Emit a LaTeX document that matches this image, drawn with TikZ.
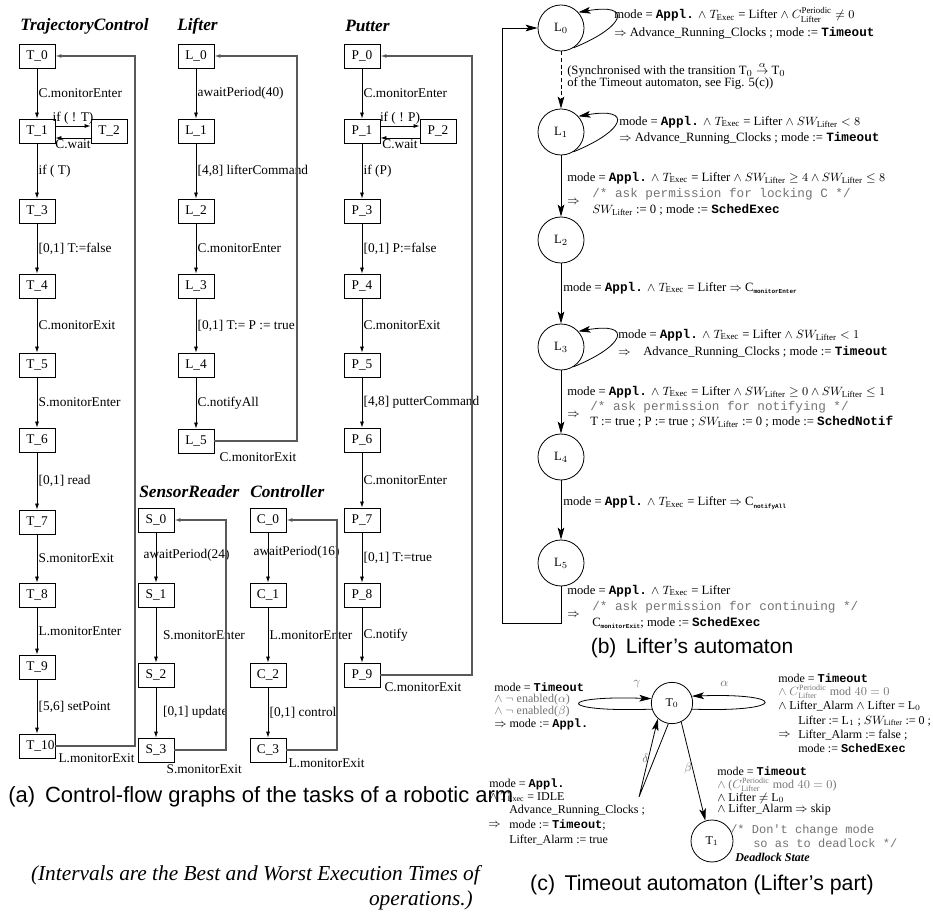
\documentclass[tikz,border=0pt]{standalone}
\usepackage{fontspec}
\setmainfont{Liberation Serif}
\setsansfont{Liberation Sans}
\setmonofont{Liberation Mono}
\usetikzlibrary{arrows.meta,calc}
\definecolor{cmtgray}{gray}{0.45}
\definecolor{backgray}{gray}{0.35}
\newcommand{\mykw}[1]{\texttt{\textbf{#1}}}
\newcommand{\mysb}[1]{\raisebox{-0.4ex}{\fontsize{4.5}{5}\selectfont\ttfamily\bfseries #1}}
\newcommand{\mycm}[1]{\textcolor{cmtgray}{\ttfamily #1}}
\newcommand{\lft}{\mathrm{Lifter}}
\begin{document}
\begin{tikzpicture}[x=0.75pt,y=-0.75pt,
  st/.style={draw,line width=0.6pt,minimum width=27pt,minimum height=18pt,inner sep=0pt,font=\fontsize{10}{12}\selectfont},
  lb/.style={anchor=west,inner sep=1pt,font=\fontsize{10}{12}\selectfont},
  lbc/.style={inner sep=1pt,font=\fontsize{10}{12}\selectfont},
  ttl/.style={anchor=west,inner sep=0pt,font=\fontsize{13}{15}\selectfont\bfseries\itshape},
  ed/.style={draw,line width=0.6pt,-{Latex[length=4.5pt,width=3pt]}},
  bk/.style={draw,backgray,line width=0.9pt,-{Latex[length=4.5pt,width=3pt]}},
  lc/.style={draw,circle,line width=0.6pt,minimum size=34.5pt,inner sep=0pt,font=\fontsize{9.5}{11}\selectfont},
  atx/.style={anchor=west,inner sep=0pt,font=\fontsize{9.5}{11}\selectfont},
  ae/.style={draw,line width=0.6pt,-{Stealth[length=9pt,width=5pt,inset=2pt]}},
  tc/.style={draw,circle,line width=0.6pt,minimum size=31pt,inner sep=0pt,font=\fontsize{9}{11}\selectfont},
  tat/.style={anchor=west,inner sep=0pt,font=\fontsize{9}{11}\selectfont},
  gl/.style={text=cmtgray},
  capt/.style={inner sep=0pt,font=\fontsize{16}{19}\selectfont\sffamily},
]
\useasboundingbox (0,0) rectangle (933,916);

% ---------------- TrajectoryControl
\node[ttl] (ttT) at (20,26) {TrajectoryControl};
\node[st] (T0) at (37,56) {T\_0};
\node[st] (T1) at (37,131) {T\_1};
\node[st] (T2) at (109,131) {T\_2};
\node[st] (T3) at (37,211) {T\_3};
\node[st] (T4) at (37,286) {T\_4};
\node[st] (T5) at (37,365) {T\_5};
\node[st] (T6) at (37,440) {T\_6};
\node[st] (T7) at (37,522) {T\_7};
\node[st] (T8) at (37,595) {T\_8};
\node[st] (T9) at (37,667) {T\_9};
\node[st] (T10) at (37,746) {\makebox[16pt][l]{T\_10}};
\draw[ed] (T0) -- node[lb]{C.monitorEnter} (T1);
\draw[ed] ([yshift=3.75pt]T1.east) -- node[lbc,above]{if ( ! T)} ([yshift=3.75pt]T2.west);
\draw[ed] ([yshift=-5.25pt]T2.west) -- node[lbc,below]{C.wait} ([yshift=-5.25pt]T1.east);
\draw[ed] (T1) -- node[lb]{if ( T)} (T3);
\draw[ed] (T3) -- node[lb]{[0,1] T:=false} (T4);
\draw[ed] (T4) -- node[lb]{C.monitorExit} (T5);
\draw[ed] (T5) -- node[lb]{S.monitorEnter} (T6);
\draw[ed] (T6) -- node[lb]{[0,1] read} (T7);
\draw[ed] (T7) -- node[lb]{S.monitorExit} (T8);
\draw[ed] (T8) -- node[lb]{L.monitorEnter} (T9);
\draw[ed] (T9) -- node[lb]{[5,6] setPoint} (T10);
\coordinate (Tbk) at (135,746);
\draw[bk] (T10.east) -- (Tbk) |- (T0.east);
\node[lb] (Tx) at (57,758) {L.monitorExit};

% ---------------- Lifter
\node[ttl] (ttL) at (177,26) {Lifter};
\node[st] (L0) at (196,56) {L\_0};
\node[st] (L1) at (196,131) {L\_1};
\node[st] (L2) at (196,211) {L\_2};
\node[st] (L3) at (196,286) {L\_3};
\node[st] (L4) at (196,365) {L\_4};
\node[st] (L5) at (196,441) {L\_5};
\draw[ed] (L0) -- node[lb]{awaitPeriod(40)} (L1);
\draw[ed] (L1) -- node[lb]{[4,8] lifterCommand} (L2);
\draw[ed] (L2) -- node[lb]{C.monitorEnter} (L3);
\draw[ed] (L3) -- node[lb]{[0,1] T:= P := true} (L4);
\draw[ed] (L4) -- node[lb]{C.notifyAll} (L5);
\coordinate (Lbk) at (297,441);
\draw[bk] (L5.east) -- (Lbk) |- (L0.east);
\node[lb] (Lx) at (218,457) {C.monitorExit};

% ---------------- Putter
\node[ttl] (ttP) at (345,26) {Putter};
\node[st] (P0) at (362,56) {P\_0};
\node[st] (P1) at (362,131) {P\_1};
\node[st] (P2) at (438,131) {P\_2};
\node[st] (P3) at (362,211) {P\_3};
\node[st] (P4) at (362,286) {P\_4};
\node[st] (P5) at (362,365) {P\_5};
\node[st] (P6) at (362,440) {P\_6};
\node[st] (P7) at (362,520) {P\_7};
\node[st] (P8) at (362,595) {P\_8};
\node[st] (P9) at (362,675) {P\_9};
\draw[ed] (P0) -- node[lb]{C.monitorEnter} (P1);
\draw[ed] ([yshift=3.75pt]P1.east) -- node[lbc,above]{if ( ! P)} ([yshift=3.75pt]P2.west);
\draw[ed] ([yshift=-5.25pt]P2.west) -- node[lbc,below]{C.wait} ([yshift=-5.25pt]P1.east);
\draw[ed] (P1) -- node[lb]{if (P)} (P3);
\draw[ed] (P3) -- node[lb]{[0,1] P:=false} (P4);
\draw[ed] (P4) -- node[lb]{C.monitorExit} (P5);
\draw[ed] (P5) -- node[lb]{[4,8] putterCommand} (P6);
\draw[ed] (P6) -- node[lb]{C.monitorEnter} (P7);
\draw[ed] (P7) -- node[lb]{[0,1] T:=true} (P8);
\draw[ed] (P8) -- node[lb]{C.notify} (P9);
\coordinate (Pbk) at (472,675);
\draw[bk] (P9.east) -- (Pbk) |- (P0.east);
\node[lb] (Px) at (383,687) {C.monitorExit};

% ---------------- SensorReader
\node[ttl] (ttS) at (139,492) {SensorReader};
\node[st] (S0) at (156,520) {S\_0};
\node[st] (S1) at (156,595) {S\_1};
\node[st] (S2) at (156,675) {S\_2};
\node[st] (S3) at (156,750) {S\_3};
\draw[ed] (S0) -- (S1);
\node[lb] (Sa) at (142,555) {awaitPeriod(24)};
\draw[ed] (S1) -- node[lb,xshift=4pt]{S.monitorEnter} (S2);
\draw[ed] (S2) -- node[lb,xshift=4pt]{[0,1] update} (S3);
\coordinate (Sbk) at (226,750);
\draw[bk] (S3.east) -- (Sbk) |- (S0.east);
\node[lb] (Sx) at (165,769) {S.monitorExit};

% ---------------- Controller
\node[ttl] (ttC) at (250,492) {Controller};
\node[st] (C0) at (268,520) {C\_0};
\node[st] (C1) at (268,595) {C\_1};
\node[st] (C2) at (268,675) {C\_2};
\node[st] (C3) at (268,750) {C\_3};
\draw[ed] (C0) -- (C1);
\node[lb] (Ca) at (252,552) {awaitPeriod(16)};
\draw[ed] (C1) -- node[lb]{L.monitorEnter} (C2);
\draw[ed] (C2) -- node[lb]{[0,1] control} (C3);
\coordinate (Cbk) at (337,750);
\draw[bk] (C3.east) -- (Cbk) |- (C0.east);
\node[lb] (Cx) at (287,763) {L.monitorExit};

% ---------------- Lifter's automaton
\node[lc] (A0) at (561,28) {L$_0$};
\node[lc] (A1) at (561,132) {L$_1$};
\node[lc] (A2) at (561,240) {L$_2$};
\node[lc] (A3) at (561,347) {L$_3$};
\node[lc] (A4) at (561,457) {L$_4$};
\node[lc] (A5) at (561,563) {L$_5$};
\draw[ae] (A0.-58) to[out=22,in=10,distance=42pt] (A0.42);
\draw[ae] (A1.-58) to[out=22,in=10,distance=42pt] (A1.42);
\draw[ae] (A3.-58) to[out=22,in=10,distance=42pt] (A3.42);
\draw[ae,dash pattern=on 3pt off 2pt] (A0) -- (A1);
\draw[ae] (A1) -- (A2);
\draw[ae] (A2) -- (A3);
\draw[ae] (A3) -- (A4);
\draw[ae] (A4) -- (A5);
\coordinate (Abl) at (502,623);
\draw[ae] (A5.south) |- (Abl) |- (A0.west);

\node[atx] (a0a) at (614,15) {mode = \mykw{Appl.} $\wedge$ $T_{\mathrm{Exec}}$ = Lifter $\wedge$\ $C^{\mathrm{Periodic}}_{\lft} \neq 0$};
\node[atx] (a0b) at (614,33) {$\Rightarrow$ Advance\_Running\_Clocks ; mode := \mykw{Timeout}};
\node[atx] (sy1) at (567,70) {(Synchronised with the transition T$_0 \stackrel{\alpha}{\rightarrow}$ T$_0$};
\node[atx] (sy2) at (567,83) {of the Timeout automaton, see Fig. 5(c))};
\node[atx] (a1a) at (619,122) {mode = \mykw{Appl.} $\wedge$ $T_{\mathrm{Exec}}$ = Lifter $\wedge$ $SW_{\lft} < 8$};
\node[atx] (a1b) at (619,138) {$\Rightarrow$ Advance\_Running\_Clocks ; mode := \mykw{Timeout}};
\node[atx] (a12a) at (567,178) {mode = \mykw{Appl.} $\wedge$ $T_{\mathrm{Exec}}$ = Lifter $\wedge$ $SW_{\lft} \geq 4 \wedge SW_{\lft} \leq 8$};
\node[atx] (a12b) at (592,194) {\mycm{/* ask permission for locking C */}};
\node[atx] (a12c) at (567,202) {$\Rightarrow$};
\node[atx] (a12d) at (592,210) {$SW_{\lft}$ := 0 ; mode := \mykw{SchedExec}};
\node[atx] (a23) at (563,288) {mode = \mykw{Appl.} $\wedge$ $T_{\mathrm{Exec}}$ = Lifter $\Rightarrow$ C\mysb{monitorEnter}};
\node[atx] (a3a) at (618,335) {mode = \mykw{Appl.} $\wedge$ $T_{\mathrm{Exec}}$ = Lifter $\wedge$ $SW_{\lft} < 1$};
\node[atx] (a3b) at (618,352) {$\Rightarrow$\quad Advance\_Running\_Clocks ; mode := \mykw{Timeout}};
\node[atx] (a34a) at (567,392) {mode = \mykw{Appl.} $\wedge$ $T_{\mathrm{Exec}}$ = Lifter $\wedge$ $SW_{\lft} \geq 0 \wedge SW_{\lft} \leq 1$};
\node[atx] (a34b) at (590,407) {\mycm{/* ask permission for notifying */}};
\node[atx] (a34c) at (567,415) {$\Rightarrow$};
\node[atx] (a34d) at (590,422) {T := true ; P := true ; $SW_{\lft}$ := 0 ; mode := \mykw{SchedNotif}};
\node[atx] (a45) at (563,503) {mode = \mykw{Appl.} $\wedge$ $T_{\mathrm{Exec}}$ = Lifter $\Rightarrow$ C\mysb{notifyAll}};
\node[atx] (a5a) at (567,591) {mode = \mykw{Appl.} $\wedge$ $T_{\mathrm{Exec}}$ = Lifter};
\node[atx] (a5b) at (592,607) {\mycm{/* ask permission for continuing */}};
\node[atx] (a5c) at (567,615) {$\Rightarrow$};
\node[atx] (a5d) at (592,623) {C\mysb{monitorExit}; mode := \mykw{SchedExec}};

% ---------------- Timeout automaton
\node[tc] (U0) at (672,703) {T$_0$};
\node[tc,minimum size=31.5pt] (U1) at (712,841) {T$_1$};
\draw[ae] (U0.197) to[out=182,in=178,distance=72pt] (U0.168);
\draw[ae] (U0.-17) to[out=-2,in=2,distance=72pt] (U0.19);
\coordinate (Ud) at (639,797);
\draw[ae] (U0.-100) -- (Ud) -- (U0.-132);
\draw[ae] (U0.-64) -- (U1.108);
\node[tat,gl] (lgam) at (633,684) {$\gamma$};
\node[tat,gl] (lalp) at (720,684) {$\alpha$};
\node[tat,gl] (ldel) at (642,758) {$\delta$};
\node[tat,gl] (lbet) at (684,768) {$\beta$};

\node[tat] (g1) at (494,687) {mode = \mykw{Timeout}};
\node[tat,gl] (g2) at (494,700) {$\wedge\ \neg$ enabled($\alpha$)};
\node[tat,gl] (g3) at (494,712) {$\wedge\ \neg$ enabled($\beta$)};
\node[tat] (g4) at (494,724) {$\Rightarrow$ mode := \mykw{Appl.}};

\node[tat] (r1) at (778,678) {mode = \mykw{Timeout}};
\node[tat,gl] (r2) at (778,692) {$\wedge\ C^{\mathrm{Periodic}}_{\lft} \bmod 40 = 0$};
\node[tat] (r3) at (778,706) {$\wedge$ Lifter\_Alarm $\wedge$ Lifter = L$_0$};
\node[tat] (r4) at (798,721) {Lifter := L$_1$ ; $SW_{\lft}$ := 0 ;};
\node[tat] (r5) at (778,735) {$\Rightarrow$};
\node[tat] (r6) at (798,735) {Lifter\_Alarm := false ;};
\node[tat] (r7) at (798,748) {mode := \mykw{SchedExec}};

\node[tat] (d1) at (489,784) {mode = \mykw{Appl.}};
\node[tat] (d2) at (489,797) {$\wedge$ $T_{\mathrm{Exec}}$ = IDLE};
\node[tat] (d3) at (509,811) {Advance\_Running\_Clocks ;};
\node[tat] (d4) at (488,825) {$\Rightarrow$};
\node[tat] (d5) at (509,825) {mode := \mykw{Timeout};};
\node[tat] (d6) at (509,840) {Lifter\_Alarm := true};

\node[tat] (b1) at (717,771) {mode = \mykw{Timeout}};
\node[tat,gl] (b2) at (717,785) {$\wedge$ ($C^{\mathrm{Periodic}}_{\lft} \bmod 40 = 0$)};
\node[tat] (b3) at (717,798) {$\wedge$ Lifter $\neq$ L$_0$};
\node[tat] (b4) at (717,810) {$\wedge$ Lifter\_Alarm $\Rightarrow$ skip};
\node[tat] (b5) at (730,830) {\mycm{/* Don't change mode}};
\node[tat] (b6) at (753,843) {\mycm{so as to deadlock */}};
\node[tat,font=\fontsize{9}{11}\selectfont\bfseries\itshape] (b7) at (735,857) {Deadlock State};

% ---------------- captions
\node[capt,anchor=west,font=\fontsize{16.5}{19}\selectfont\sffamily] (capa) at (8,797) {(a)\hspace{0.45em}Control-flow graphs of the tasks of a robotic arm};
\node[capt,font=\fontsize{15.75}{19}\selectfont\sffamily] (capb) at (692,648) {(b)\hspace{0.45em}Lifter's automaton};
\node[capt] (capc) at (702,885) {(c)\hspace{0.45em}Timeout automaton (Lifter's part)};
\node[anchor=east,inner sep=0pt,font=\fontsize{16}{19}\selectfont\itshape] (nt1) at (480,875) {(Intervals are the Best and Worst Execution Times of};
\node[anchor=east,inner sep=0pt,font=\fontsize{16}{19}\selectfont\itshape] (nt2) at (473,900) {operations.)};
\end{tikzpicture}
\end{document}
